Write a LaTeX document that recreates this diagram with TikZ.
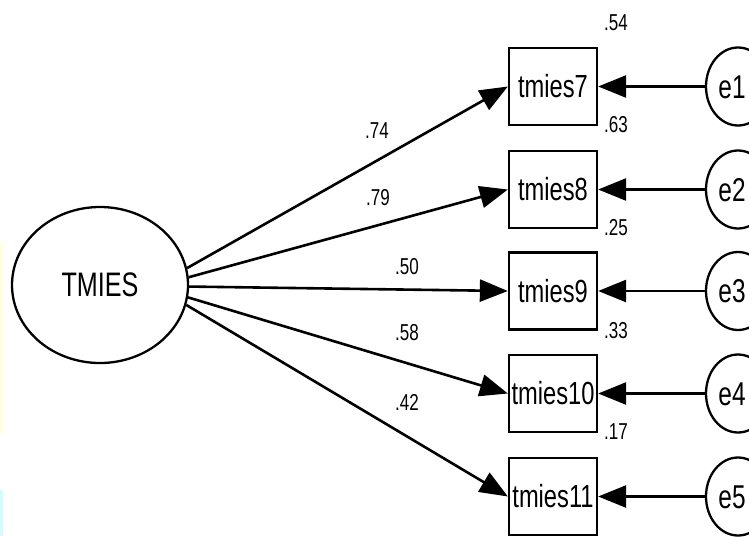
\documentclass[tikz,border=0pt]{standalone}
\usepackage{fontspec}
\newfontfamily\arialn[FakeStretch=0.74]{Liberation Sans}
\usetikzlibrary{shapes.geometric,arrows.meta}
\definecolor{paleyellow}{HTML}{FFFFE2}
\definecolor{palecyan}{HTML}{D2FCFF}
\begin{document}
\begin{tikzpicture}[x=1pt,y=-1pt,
  every node/.style={font=\arialn},
  latent/.style={ellipse,draw,line width=2.3pt,minimum width=176pt,minimum height=156pt,inner sep=0pt,font=\arialn\fontsize{34}{38}\selectfont},
  obsbox/.style={rectangle,draw,line width=2.3pt,minimum width=88pt,minimum height=77pt,inner sep=0pt,font=\arialn\fontsize{32}{36}\selectfont},
  errc/.style={ellipse,draw,line width=2.3pt,minimum width=64pt,minimum height=78pt,inner sep=0pt},
  errt/.style={inner sep=0pt,font=\arialn\fontsize{33}{36}\selectfont},
  lab/.style={inner sep=0pt,font=\arialn\fontsize{23}{26}\selectfont},
  arr/.style={line width=2.6pt,-{Triangle[length=28pt,width=22pt]}}]
\useasboundingbox (0,0) rectangle (749,536);
\fill[white] (0,0) rectangle (749,536);
\fill[paleyellow] (0,242) rectangle (2.5,433);
\fill[palecyan] (0,490) rectangle (2.5,536);
\node[latent] (T) at (100,285) {TMIES};
\node[obsbox] (b1) at (553,86.5) {tmies7};
\node[obsbox] (b2) at (553,189.5) {tmies8};
\node[obsbox] (b3) at (553,291) {tmies9};
\node[obsbox] (b4) at (553,393.5) {tmies10};
\node[obsbox] (b5) at (553,496.5) {tmies11};
\node[errc] (e1) at (738,86.5) {};
\node[errc] (e2) at (738,189.5) {};
\node[errc] (e3) at (738,291) {};
\node[errc] (e4) at (738,393.5) {};
\node[errc] (e5) at (738,496.5) {};
\node[errt] (t1) at (732,87) {e1};
\node[errt] (t2) at (732,190) {e2};
\node[errt] (t3) at (732,291.5) {e3};
\node[errt] (t4) at (732,394) {e4};
\node[errt] (t5) at (732,497) {e5};
\draw[arr] (T.11) -- (b1.west);
\draw[arr] (T.5) -- (b2.west);
\draw[arr] (T.-1) -- (b3.west);
\draw[arr] (T.-8) -- (b4.west);
\draw[arr] (T.-13) -- (b5.west);
\draw[arr] (e1) -- (b1.east);
\draw[arr] (e2) -- (b2.east);
\draw[arr] (e3) -- (b3.east);
\draw[arr] (e4) -- (b4.east);
\draw[arr] (e5) -- (b5.east);
\node[lab] (l1) at (377,131) {.74};
\node[lab] (l2) at (378,198) {.79};
\node[lab] (l3) at (407,267) {.50};
\node[lab] (l4) at (407,333) {.58};
\node[lab] (l5) at (407,402) {.42};
\node[lab] (r1) at (616,23) {.54};
\node[lab] (r2) at (616,125) {.63};
\node[lab] (r3) at (616,228) {.25};
\node[lab] (r4) at (616,331) {.33};
\node[lab] (r5) at (616,432) {.17};
\end{tikzpicture}
\end{document}
